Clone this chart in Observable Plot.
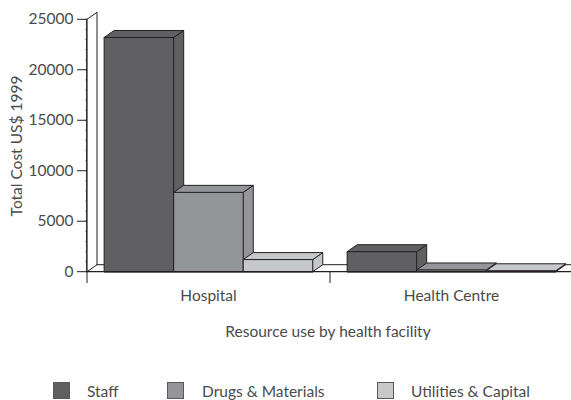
<!DOCTYPE html>
<html>
<head>
<meta charset="utf-8">
<script src="https://cdn.jsdelivr.net/npm/d3@7"></script>
<script src="https://cdn.jsdelivr.net/npm/@observablehq/plot@0.6"></script>
<style>
html,body{margin:0;padding:0;background:#fff}
#legend{position:relative;width:571px;height:28px;font:15.5px "Lato",sans-serif;color:#4a4a4c}
#legend i{position:absolute;top:10px;width:17px;height:17px;border:1px solid #58595b;box-sizing:border-box}
#legend span{position:absolute;top:9px;line-height:20px;white-space:nowrap}
</style>
</head>
<body>
<div id="chart"></div>
<div id="legend"></div>
<script>
const categories = ["Hospital", "Health Centre"];
const seriesNames = ["Staff", "Drugs & Materials", "Utilities & Capital"];
const staff = [23200, 1980];
const drugs = [7860, 170];
const utilities = [1200, 90];
const colors = ["#606062", "#939598", "#c7c8ca"];
const yTicks = [0, 5000, 10000, 15000, 20000, 25000];
const legendSwatchX = [53, 167, 377];
const legendTextX = [87, 202, 411];

const values = [staff, drugs, utilities];
const ink = "#231f20";
const textInk = "#4a4a4c";
const depthX = 10 / 243;
const depthY = 7 / 252.4 * 25000;
const inset = 0.0705;
const barW = 0.2862;

const font = '"Lato", sans-serif';
const fs = 15.5;
const faces = [];
categories.forEach((c, g) => seriesNames.forEach((s, k) => {
  const x1 = g + inset + k * barW, x2 = x1 + barW, v = values[k][g];
  faces.push({id: `${c}-${s}-side`, k, pts: [[x2, 0], [x2 + depthX, depthY], [x2 + depthX, v + depthY], [x2, v]]});
  faces.push({id: `${c}-${s}-top`, k, pts: [[x1, v], [x1 + depthX, v + depthY], [x2 + depthX, v + depthY], [x2, v]]});
  faces.push({id: `${c}-${s}-front`, k, pts: [[x1, 0], [x1, v], [x2, v], [x2, 0]]});
}));
const facePts = faces.flatMap(f => f.pts.map(p => ({id: f.id, k: f.k, x: p[0], y: p[1]})));

const wall = [[0, 0], [depthX, depthY], [depthX, 25000 + depthY], [0, 25000]].map(p => ({x: p[0], y: p[1]}));

const plot = Plot.plot({
  width: 571, height: 372,
  marginLeft: 87, marginRight: 0, marginTop: 19, marginBottom: 100,
  x: {type: "linear", domain: [0, 2], range: [86.5, 572.5], axis: null},
  y: {type: "linear", domain: [0, 25000], range: [271.2, 18.8], axis: null},
  style: {fontFamily: font, fontSize: fs + "px", color: textInk, background: "#fff"},
  marks: [
    Plot.line(wall, {x: "x", y: "y", curve: "linear-closed", fill: "#fff", stroke: ink, strokeWidth: 1}),
    Plot.ruleY([depthY], {x1: depthX, x2: 2, stroke: ink, strokeWidth: 1}),
    Plot.line(facePts, {x: "x", y: "y", z: "id", curve: "linear-closed",
      fill: d => colors[d.k], stroke: ink, strokeWidth: 1, strokeLinejoin: "round"}),
    Plot.ruleY([0], {x1: 0, x2: 2, stroke: ink, strokeWidth: 1.2}),
    Plot.ruleX([0], {y1: 0, y2: 25000, stroke: ink, strokeWidth: 1}),
    Plot.axisY({ticks: d3.range(0, 25001, 1000), tickSize: 1.5, tickFormat: () => "", stroke: ink, strokeOpacity: 0.7, label: null}),
    Plot.axisY({ticks: yTicks, tickSize: 10, tickPadding: 4, tickFormat: d => String(d), stroke: ink, label: null, fontSize: fs, fill: textInk}),
    Plot.axisX({ticks: [0, 1], tickSize: 11, tickFormat: () => "", stroke: ink, label: null}),
    Plot.text(categories, {x: (d, i) => i + 0.5, y: 0, dy: 24, fill: textInk, fontSize: fs}),
    Plot.text(["Resource use by health facility"], {x: 1, y: 0, dy: 60, dx: -2, fill: textInk, fontSize: fs}),
    Plot.text(["Total Cost US$ 1999"], {frameAnchor: "left", y: 12450, dx: -70, rotate: -90, fill: textInk, fontSize: fs, textAnchor: "middle"})
  ]
});
document.getElementById("chart").appendChild(plot);

const legend = document.getElementById("legend");
seriesNames.forEach((s, k) => {
  const sw = document.createElement("i");
  sw.style.left = legendSwatchX[k] + "px";
  sw.style.background = colors[k];
  legend.appendChild(sw);
  const t = document.createElement("span");
  t.style.left = legendTextX[k] + "px";
  t.textContent = s;
  legend.appendChild(t);
});
</script>
</body>
</html>
